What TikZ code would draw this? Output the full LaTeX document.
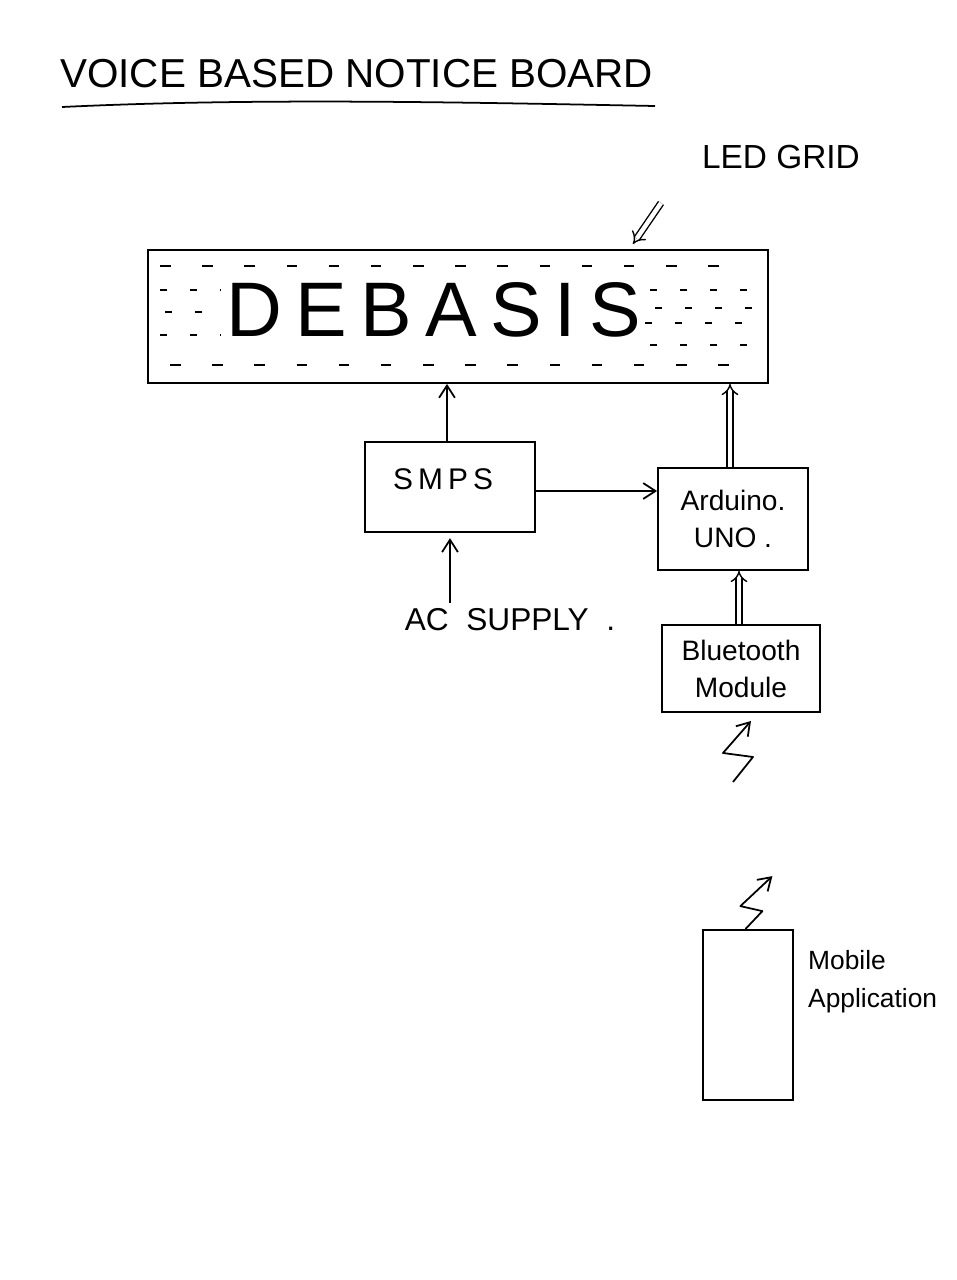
\documentclass[tikz,border=0pt]{standalone}
\usepackage{fontspec}
\setmainfont{Liberation Sans}
\newfontfamily\spacedfont[LetterSpace=17]{Liberation Sans}
\usetikzlibrary{arrows.meta}

\tikzset{
  box/.style={draw, line width=1pt, inner sep=0pt},
  sig/.style={line width=1pt, -{Straight Barb[length=7pt,width=9pt]}},
  bus/.style={double, double distance=2.5pt, line width=0.8pt, -{Implies}},
  gridmarks/.style={line width=0.9pt, dash pattern=on 6pt off 18pt}
}

\begin{document}
\begin{tikzpicture}[scale=0.2]
          \useasboundingbox (0,0) rectangle (95.7,-128);
          % heading
          \node[anchor=west, font=\fontsize{23}{27}\selectfont] (title) at (5.4,-7.4) {VOICE\ BASED\ NOTICE\ BOARD};
          \draw[line width=1pt] (6.2,-10.7) .. controls (25,-9.8) and (45,-10.2) .. (65.5,-10.6);
          \node[font=\fontsize{19}{22}\selectfont] (gridlabel) at (78.1,-15.7) {LED GRID};
          % led board
          \node[box, minimum width=12.4cm, minimum height=2.66cm] (led) at (45.8,-31.65) {};
          \node[font=\spacedfont\fontsize{44}{48}\selectfont] (word) at (43.4,-31) {DEBASIS};
          \draw[gridmarks] (16,-26.6) -- (75,-26.6)
                (17,-36.5) -- (76,-36.5);
          \draw[gridmarks, dash pattern=on 4pt off 13pt]
                (16,-29) -- (22,-29)
                (16.5,-31.2) -- (22,-31.2)
                (16,-33.5) -- (22,-33.5)
                (65,-29) -- (76,-29)
                (65.5,-30.8) -- (76,-30.8)
                (64.5,-32.3) -- (76,-32.3)
                (65,-34.5) -- (76,-34.5);
          \coordinate (ledtip) at (66.1,-20.3);
          \coordinate (ledend) at (63.3,-24.4);
          \draw[bus] (ledtip) -- (ledend);
          % blocks
          \node[box, minimum width=3.4cm, minimum height=1.8cm] (smps) at (45,-48.7) {};
          \node[font=\spacedfont\fontsize{17}{20}\selectfont] (smpstext) at (44.3,-47.9) {SMPS};
          \node[box, minimum width=3cm, minimum height=2.04cm, align=center,
                font=\fontsize{16}{21}\selectfont] (arduino) at (73.3,-51.9) {Arduino.\\ UNO .};
          \node[box, minimum width=3.16cm, minimum height=1.74cm, align=center,
                font=\fontsize{16}{21}\selectfont] (bt) at (74.1,-66.85) {Bluetooth\\ Module};
          \node[font=\fontsize{18}{22}\selectfont] (ac) at (51,-62) {AC\ \ SUPPLY \ .};
          \node[box, minimum width=1.8cm, minimum height=3.4cm] (phone) at (74.8,-101.5) {};
          \node[anchor=west, align=left, font=\fontsize{15}{21.5}\selectfont] (apptext) at (80.2,-98.2)
                {Mobile\\ Application};
          % links
          \draw[sig] ([xshift=-0.3cm]smps.north) -- ([xshift=-0.3cm]smps.north |- led.south);
          \draw[bus] ([xshift=-0.3cm]arduino.north) -- ([xshift=-0.3cm]arduino.north |- led.south);
          \draw[sig] ([yshift=-0.4cm]smps.east) -- ([yshift=-0.4cm]smps.east -| arduino.west);
          \draw[sig, shorten >=3pt] (smps.south |- ac.north) -- (smps.south);
          \draw[bus] ([xshift=-0.2cm]bt.north) -- ([xshift=-0.2cm]bt.north |- arduino.south);
          % wireless
          \coordinate (btwave) at (73.3,-78.2);
          \draw[sig, line join=round] (btwave) -- ++(2,2.5) -- ++(-3,0.4) -- ++(2.8,3.2);
          \draw[sig, line join=round] ([xshift=-0.26cm]phone.north) -- ++(1.7,1.8) -- ++(-2.2,0.5) -- ++(3.2,3);
        \end{tikzpicture}
\end{document}
